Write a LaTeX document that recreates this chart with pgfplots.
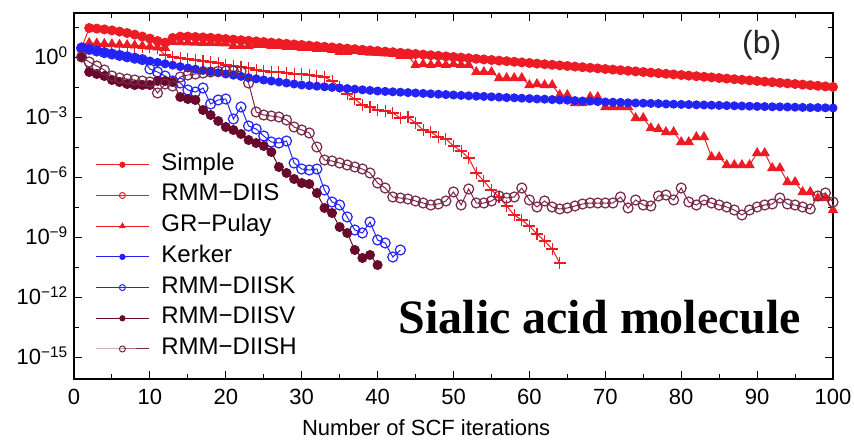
\documentclass[border=0pt]{standalone}
\usepackage{pgfplots}
\pgfplotsset{compat=1.18}
\usepackage{fontspec}
\setmainfont{Liberation Sans}
\newfontfamily\tnr{Liberation Serif}
\definecolor{cred}{RGB}{237,28,36}
\definecolor{cblue}{RGB}{35,35,245}
\definecolor{cmarA}{RGB}{105,10,45}
\definecolor{cmarB}{RGB}{120,40,70}
\begin{document}
\begin{tikzpicture}
\path[use as bounding box] (-74pt,-61pt) rectangle (780pt,379pt);
\begin{axis}[
  at={(0pt,0pt)}, anchor=south west,
  scale only axis, width=759pt, height=366pt,
  xmin=0, xmax=100, ymin=-16.1, ymax=2.2,
  xtick={0,10,...,100}, minor xtick={5,15,...,95},
  ytick={-15,-12,-9,-6,-3,0},
  yticklabels={10\textsuperscript{−15},10\textsuperscript{−12},10\textsuperscript{−9},10\textsuperscript{−6},10\textsuperscript{−3},10\textsuperscript{0}},
  minor ytick={-13.5,-10.5,-7.5,-4.5,-1.5,1.5},
  tick align=inside,
  major tick length=8pt, minor tick length=5pt,
  every tick/.style={black, line width=0.9pt},
  axis line style={line width=1.2pt},
  /pgf/number format/assume math mode=true,
  xticklabel style={font=\fontsize{22}{24}\selectfont, anchor=north, inner sep=0pt, yshift=-10pt},
  yticklabel style={font=\fontsize{22}{24}\selectfont, anchor=base east, inner sep=0pt, xshift=-6pt, yshift=-7.9pt},
  xlabel={Number of SCF iterations},
  xlabel style={font=\fontsize{22}{24}\selectfont, at={(axis description cs:0.464,0)}, anchor=north, inner sep=0pt, yshift=-40pt},
  legend style={draw=none, fill=none, at={(axis description cs:0.024,0.62)}, anchor=north west,
    font=\fontsize{24}{26}\selectfont, row sep=9.7pt, column sep=12pt,
    nodes={inner sep=0pt, text height=16pt, text depth=5pt, anchor=west}},
  legend cell align=left,
  legend image code/.code={\draw[mark repeat=2,mark phase=2,#1] plot coordinates {(0pt,0pt) (26.5pt,0pt) (53pt,0pt)};},
]
% Simple
\addplot[forget plot, color=cred, line width=1pt, mark=*, mark size=4.5pt, mark options={solid}] coordinates {
(1,0.45)(2,1.45)(3,1.42)(4,1.38)(5,1.33)(6,1.27)(7,1.2)(8,1.12)(9,1.02)(10,0.92)(11,0.8)(12,0.72)(13,0.95)(14,1.02)(15,1.02)(16,1.0)(17,0.98)(18,0.96)(19,0.93)(20,0.9)(21,0.87)(22,0.84)(23,0.81)(24,0.78)(25,0.75)(26,0.72)(27,0.69)(28,0.66)(29,0.63)(30,0.6)(31,0.57)(32,0.54)(33,0.51)(34,0.48)(35,0.45)(36,0.42)(37,0.39)(38,0.36)(39,0.33)(40,0.3)(41,0.27)(42,0.24)(43,0.21)(44,0.18)(45,0.15)(46,0.12)(47,0.09)(48,0.06)(49,0.03)(50,0.0)(51,-0.03)(52,-0.06)(53,-0.09)(54,-0.12)(55,-0.15)(56,-0.18)(57,-0.21)(58,-0.24)(59,-0.27)(60,-0.3)(61,-0.33)(62,-0.36)(63,-0.39)(64,-0.42)(65,-0.45)(66,-0.48)(67,-0.51)(68,-0.54)(69,-0.57)(70,-0.6)(71,-0.63)(72,-0.66)(73,-0.69)(74,-0.72)(75,-0.75)(76,-0.78)(77,-0.81)(78,-0.84)(79,-0.87)(80,-0.9)(81,-0.93)(82,-0.96)(83,-0.99)(84,-1.02)(85,-1.05)(86,-1.08)(87,-1.11)(88,-1.14)(89,-1.17)(90,-1.2)(91,-1.23)(92,-1.26)(93,-1.29)(94,-1.32)(95,-1.35)(96,-1.38)(97,-1.41)(98,-1.44)(99,-1.47)(100,-1.5)};
% RMM-DIIS
\addplot[forget plot, color=cred, line width=1pt, mark=+, mark size=6pt, mark options={solid, line width=1.1pt}] coordinates {
(1,0.45)(2,0.65)(3,0.62)(4,0.6)(5,0.58)(6,0.56)(7,0.54)(8,0.52)(9,0.5)(10,0.48)(11,0.45)(12,0.1)(13,0.0)(14,-0.05)(15,-0.1)(16,-0.15)(17,-0.2)(18,-0.25)(19,-0.3)(20,-0.4)(21,-0.45)(22,-0.5)(23,-0.55)(24,-0.65)(25,-0.7)(26,-0.75)(27,-0.75)(28,-0.8)(29,-0.85)(30,-0.85)(31,-0.9)(32,-0.95)(33,-1.0)(34,-1.2)(35,-1.5)(36,-1.85)(37,-2.1)(38,-2.4)(39,-2.5)(40,-2.65)(41,-2.7)(42,-2.8)(43,-3.05)(44,-3.0)(45,-3.3)(46,-3.65)(47,-3.75)(48,-4.0)(49,-4.1)(50,-4.45)(51,-4.7)(52,-5.05)(53,-5.8)(54,-6.2)(55,-6.65)(56,-7.0)(57,-7.45)(58,-7.9)(59,-8.15)(60,-8.45)(61,-8.85)(62,-9.2)(63,-9.6)(64,-10.3)};
% GR-Pulay
\addplot[forget plot, color=cred, line width=1pt, mark=triangle*, mark size=5pt, mark options={solid}] coordinates {
(1,0.45)(2,0.7)(3,0.68)(4,0.66)(5,0.64)(6,0.62)(7,0.6)(8,0.58)(9,0.55)(10,0.52)(11,0.48)(12,0.45)(13,0.75)(14,0.74)(15,0.73)(16,0.72)(17,0.71)(18,0.7)(19,0.69)(20,0.68)(21,0.55)(22,0.55)(23,0.55)(24,0.6)(25,0.6)(26,0.55)(27,0.55)(28,0.5)(29,0.5)(30,0.45)(31,0.45)(32,0.4)(33,0.4)(34,0.35)(35,0.25)(36,0.25)(37,0.3)(38,0.25)(39,0.22)(40,0.2)(41,0.18)(42,0.15)(43,0.05)(44,0.05)(45,-0.4)(46,-0.35)(47,-0.4)(48,-0.35)(49,-0.4)(50,-0.35)(51,-0.4)(52,-0.4)(53,-0.75)(54,-0.75)(55,-0.75)(56,-1.05)(57,-1.05)(58,-1.05)(59,-1.05)(60,-1.4)(61,-1.35)(62,-1.4)(63,-1.4)(64,-1.9)(65,-1.9)(66,-2.3)(67,-2.3)(68,-2.0)(69,-2.0)(70,-2.5)(71,-2.5)(72,-2.5)(73,-2.5)(74,-3.05)(75,-3.05)(76,-3.55)(77,-3.6)(78,-3.75)(79,-3.75)(80,-4.25)(81,-4.25)(82,-4.0)(83,-4.0)(84,-5.0)(85,-5.0)(86,-5.4)(87,-5.4)(88,-5.4)(89,-5.4)(90,-4.8)(91,-4.8)(92,-5.55)(93,-5.55)(94,-6.25)(95,-6.25)(96,-6.75)(97,-6.75)(98,-7.05)(99,-7.05)(100,-7.65)};
% Kerker
\addplot[forget plot, color=cblue, line width=1pt, mark=*, mark size=4pt, mark options={solid}] coordinates {
(1,0.45)(2,0.38)(3,0.3)(4,0.22)(5,0.15)(6,0.08)(7,0.01)(8,-0.06)(9,-0.13)(10,-0.2)(11,-0.27)(12,-0.34)(13,-0.41)(14,-0.48)(15,-0.55)(16,-0.61)(17,-0.67)(18,-0.73)(19,-0.79)(20,-0.85)(21,-0.91)(22,-0.97)(23,-1.03)(24,-1.09)(25,-1.15)(26,-1.2)(27,-1.25)(28,-1.3)(29,-1.35)(30,-1.4)(31,-1.43)(32,-1.46)(33,-1.49)(34,-1.52)(35,-1.55)(36,-1.58)(37,-1.61)(38,-1.64)(39,-1.67)(40,-1.7)(41,-1.72)(42,-1.74)(43,-1.76)(44,-1.78)(45,-1.8)(46,-1.82)(47,-1.84)(48,-1.86)(49,-1.88)(50,-1.9)(51,-1.92)(52,-1.94)(53,-1.96)(54,-1.97)(55,-1.99)(56,-2.01)(57,-2.03)(58,-2.04)(59,-2.06)(60,-2.08)(61,-2.1)(62,-2.11)(63,-2.13)(64,-2.15)(65,-2.16)(66,-2.18)(67,-2.2)(68,-2.21)(69,-2.23)(70,-2.25)(71,-2.26)(72,-2.27)(73,-2.29)(74,-2.3)(75,-2.31)(76,-2.32)(77,-2.33)(78,-2.35)(79,-2.36)(80,-2.37)(81,-2.38)(82,-2.39)(83,-2.4)(84,-2.41)(85,-2.42)(86,-2.43)(87,-2.44)(88,-2.45)(89,-2.46)(90,-2.47)(91,-2.48)(92,-2.49)(93,-2.49)(94,-2.5)(95,-2.51)(96,-2.52)(97,-2.53)(98,-2.53)(99,-2.54)(100,-2.55)};
% RMM-DIISK
\addplot[forget plot, color=cblue, line width=1pt, mark=o, mark size=5pt, mark options={solid, line width=1.2pt}] coordinates {
(1,0.45)(2,0.38)(3,0.3)(4,0.22)(5,0.15)(6,0.08)(7,0.01)(8,-0.06)(9,-0.13)(10,-0.6)(11,-0.75)(12,-0.95)(13,-1.2)(14,-1.3)(15,-1.65)(16,-1.75)(17,-1.55)(18,-2.35)(19,-2.15)(20,-2.1)(21,-3.1)(22,-2.5)(23,-3.45)(24,-3.6)(25,-3.95)(26,-4.25)(27,-4.3)(28,-4.2)(29,-5.3)(30,-5.6)(31,-5.65)(32,-5.6)(33,-6.65)(34,-7.25)(35,-7.4)(36,-8.0)(37,-8.65)(38,-8.8)(39,-8.25)(40,-9.15)(41,-9.3)(42,-10.0)(43,-9.65)};
% RMM-DIISV
\addplot[forget plot, color=cmarA, line width=1pt, mark=*, mark size=4.5pt, mark options={solid}] coordinates {
(1,0.0)(2,-0.75)(3,-0.85)(4,-0.95)(5,-1.15)(6,-1.25)(7,-1.35)(8,-1.4)(9,-1.4)(10,-1.4)(11,-1.2)(12,-1.2)(13,-1.25)(14,-2.0)(15,-2.1)(16,-2.15)(17,-2.65)(18,-2.9)(19,-3.2)(20,-3.5)(21,-3.65)(22,-3.85)(23,-4.15)(24,-4.3)(25,-4.45)(26,-4.75)(27,-5.5)(28,-5.8)(29,-6.1)(30,-6.3)(31,-6.35)(32,-6.8)(33,-7.55)(34,-7.8)(35,-8.5)(36,-8.8)(37,-9.65)(38,-10.05)(39,-9.9)(40,-10.4)};
% RMM-DIISH
\addplot[forget plot, color=cmarB, line width=1pt, mark=o, mark size=5pt, mark options={solid, line width=1.2pt}] coordinates {
(1,0.0)(2,-0.25)(3,-0.45)(4,-0.65)(5,-0.95)(6,-1.05)(7,-1.1)(8,-1.15)(9,-1.2)(10,-1.25)(11,-1.8)(12,-1.35)(13,-1.45)(14,-1.0)(15,-0.9)(16,-0.85)(17,-0.8)(18,-0.75)(19,-0.72)(20,-0.7)(21,-0.7)(22,-0.72)(23,-1.3)(24,-2.75)(25,-2.9)(26,-2.95)(27,-3.0)(28,-3.15)(29,-3.5)(30,-3.65)(31,-3.8)(32,-4.5)(33,-5.15)(34,-5.2)(35,-5.3)(36,-5.4)(37,-5.5)(38,-5.6)(39,-5.8)(40,-6.3)(41,-6.55)(42,-7.0)(43,-7.05)(44,-7.1)(45,-7.2)(46,-7.3)(47,-7.4)(48,-7.35)(49,-7.2)(50,-6.75)(51,-7.4)(52,-6.6)(53,-7.3)(54,-7.3)(55,-7.2)(56,-6.95)(57,-7.05)(58,-7.0)(59,-6.55)(60,-7.15)(61,-7.5)(62,-7.2)(63,-7.5)(64,-7.6)(65,-7.55)(66,-7.45)(67,-7.35)(68,-7.3)(69,-7.3)(70,-7.3)(71,-7.3)(72,-7.0)(73,-7.55)(74,-7.15)(75,-7.4)(76,-7.45)(77,-6.95)(78,-6.9)(79,-7.15)(80,-6.55)(81,-7.25)(82,-7.4)(83,-7.15)(84,-7.3)(85,-7.4)(86,-7.5)(87,-7.65)(88,-7.9)(89,-7.65)(90,-7.5)(91,-7.4)(92,-7.35)(93,-7.05)(94,-7.35)(95,-7.4)(96,-7.5)(97,-7.6)(98,-6.95)(99,-6.8)(100,-7.25)};
% legend
\addlegendimage{color=cred, line width=1pt, mark=*, mark size=2.6pt}
\addlegendentry{Simple}
\addlegendimage{color=cred, line width=1pt, mark=o, mark size=3pt, mark options={line width=1pt}}
\addlegendentry{RMM−DIIS}
\addlegendimage{color=cred, line width=1pt, mark=triangle*, mark size=3pt}
\addlegendentry{GR−Pulay}
\addlegendimage{color=cblue, line width=1pt, mark=*, mark size=2.6pt}
\addlegendentry{Kerker}
\addlegendimage{color=cblue, line width=1pt, mark=o, mark size=3pt, mark options={line width=1pt}}
\addlegendentry{RMM−DIISK}
\addlegendimage{color=cmarA, line width=1pt, mark=*, mark size=2.6pt}
\addlegendentry{RMM−DIISV}
\addlegendimage{color=cmarB, line width=1pt, mark=o, mark size=3pt, mark options={line width=1pt}}
\addlegendentry{RMM−DIISH}
\node[font=\fontsize{32}{36}\selectfont, text=black!85] at (axis cs:90.6,0.6) {(b)};
\node[font=\tnr\bfseries\fontsize{48}{52}\selectfont] at (axis cs:69.3,-13.0) {Sialic acid molecule};
\end{axis}
\end{tikzpicture}
\end{document}
